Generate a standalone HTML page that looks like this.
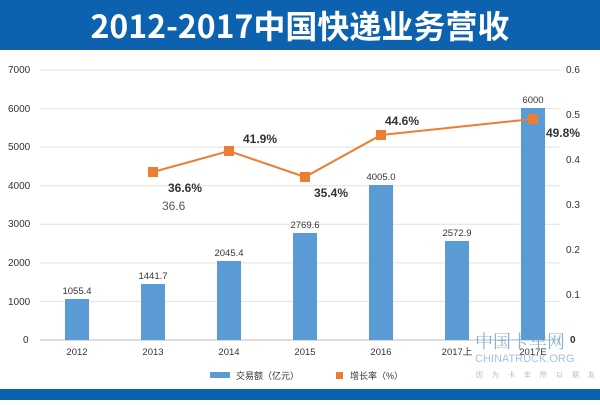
<!DOCTYPE html><html><head><style>body{margin:0;width:600px;height:400px;overflow:hidden;background:#fff;font-family:"Liberation Sans","Noto Sans CJK SC",sans-serif}</style></head><body>
<svg width="600" height="400" xmlns="http://www.w3.org/2000/svg" font-family="Liberation Sans, Noto Sans CJK SC, sans-serif">
<rect x="0" y="0" width="600" height="50" fill="#0d62b0"/>
<text x="300" y="38" text-anchor="middle" font-size="32" font-weight="bold" fill="#fff" font-family="Noto Sans CJK SC, sans-serif">2012-2017中国快递业务营收</text>
<rect x="0" y="389" width="600" height="11" fill="#0d62b0"/>
<g stroke="#e2e2e2" stroke-width="1">
<line x1="40" x2="560" y1="70" y2="70"/><line x1="40" x2="560" y1="108.6" y2="108.6"/><line x1="40" x2="560" y1="147.1" y2="147.1"/><line x1="40" x2="560" y1="185.7" y2="185.7"/><line x1="40" x2="560" y1="224.3" y2="224.3"/><line x1="40" x2="560" y1="262.9" y2="262.9"/><line x1="40" x2="560" y1="301.4" y2="301.4"/></g>
<line x1="40" x2="560" y1="340" y2="340" stroke="#bbb"/>
<g font-size="10" fill="#333">
<text x="8" y="73">7000</text><text x="8" y="112">6000</text><text x="8" y="150">5000</text><text x="8" y="189">4000</text><text x="8" y="227">3000</text><text x="8" y="266">2000</text><text x="8" y="305">1000</text><text x="23" y="343">0</text>
<text x="566" y="73">0.6</text><text x="566" y="118">0.5</text><text x="566" y="163">0.4</text><text x="566" y="208">0.3</text><text x="566" y="253">0.2</text><text x="566" y="298">0.1</text><text x="570" y="343" font-weight="bold">0</text>
</g>
<g fill="#5b9bd5">
<rect x="65" y="299" width="24" height="41"/><rect x="141" y="284" width="24" height="56"/><rect x="217" y="261" width="24" height="79"/><rect x="293" y="233" width="24" height="107"/><rect x="369" y="185" width="24" height="155"/><rect x="445" y="241" width="24" height="99"/><rect x="521" y="108" width="24" height="232"/></g>
<g font-size="9.5" fill="#333" text-anchor="middle">
<text x="77" y="294">1055.4</text><text x="153" y="279">1441.7</text><text x="229" y="256">2045.4</text><text x="305" y="228">2769.6</text><text x="381" y="180">4005.0</text><text x="457" y="236">2572.9</text><text x="533" y="103">6000</text>
<text x="77" y="355">2012</text><text x="153" y="355">2013</text><text x="229" y="355">2014</text><text x="305" y="355">2015</text><text x="381" y="355">2016</text><text x="457" y="355">2017上</text><text x="533" y="355">2017E</text></g>
<polyline points="153,172 229,151 305,177 381,135 533,119" fill="none" stroke="#ed7d31" stroke-width="2"/>
<g fill="#ed7d31"><rect x="148" y="167" width="10" height="10"/><rect x="224" y="146" width="10" height="10"/><rect x="300" y="172" width="10" height="10"/><rect x="376" y="130" width="10" height="10"/><rect x="528" y="114" width="10" height="10"/></g>
<g font-size="12" font-weight="bold" fill="#333">
<text x="168" y="192">36.6%</text><text x="243" y="143">41.9%</text><text x="314" y="197">35.4%</text><text x="385" y="125">44.6%</text><text x="546" y="137">49.8%</text></g>
<text x="162" y="210" font-size="12" fill="#555">36.6</text>
<rect x="210" y="372" width="20" height="6" fill="#5b9bd5"/><text x="236" y="379" font-size="9" fill="#333">交易额（亿元）</text>
<rect x="336" y="372" width="7" height="7" fill="#ed7d31"/><text x="350" y="379" font-size="9" fill="#333">增长率（%）</text>
<g opacity="0.8"><text x="475" y="348" font-size="18" fill="#6aa0d0" font-family="Noto Serif CJK SC, serif">中国卡车网</text>
<text x="475" y="362" font-size="11" fill="#8ab4dc">CHINATRUCK.ORG</text>
<text x="476" y="377" font-size="7" fill="#9ab" letter-spacing="9">因为卡车所以朋友</text></g>
</svg></body></html>
